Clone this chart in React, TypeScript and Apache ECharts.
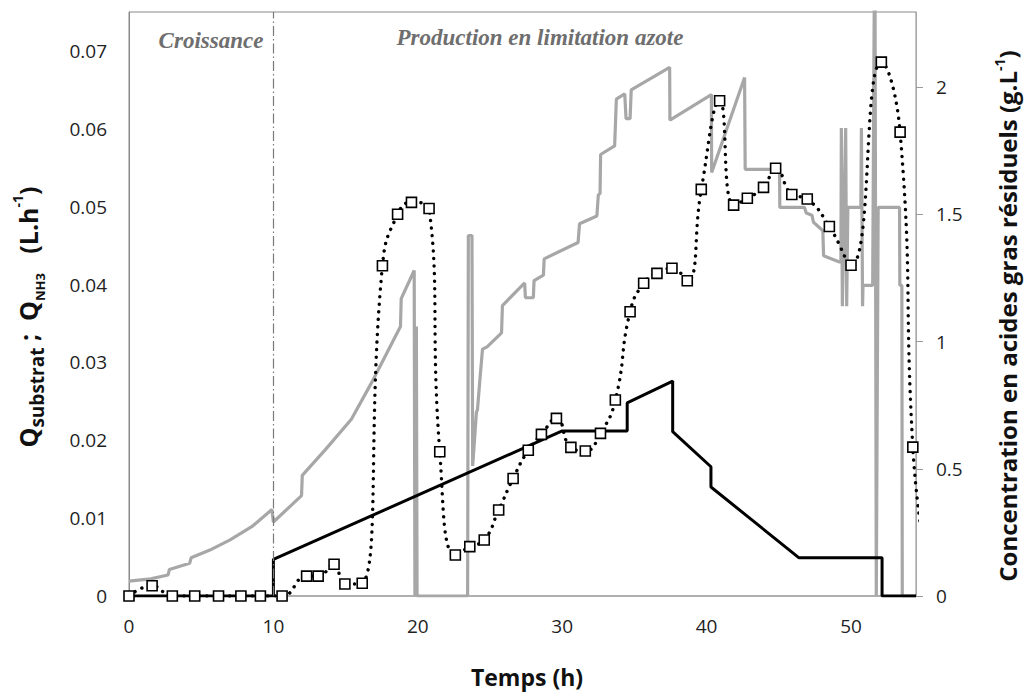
import React, { useEffect, useRef } from "react";
import * as echarts from "echarts";

// Time axis ticks (h)
const timeTicks = [0, 10, 20, 30, 40, 50];
// Left axis ticks: Q substrat ; Q NH3 (L/h)
const flowTicks = [0, 0.01, 0.02, 0.03, 0.04, 0.05, 0.06, 0.07];
// Right axis ticks: residual fatty acids (g/L)
const acidTicks = [0, 0.5, 1, 1.5, 2];

// Q substrat (grey line), [time h, L/h]
const substrateFlow: [number, number][] = [
  [0, 0.0019], [1.5, 0.0022], [2.7, 0.0027], [2.8, 0.0034], [4.2, 0.0042], [4.3, 0.0049],
  [5.6, 0.0059], [7.0, 0.0072], [8.5, 0.0089], [9.9, 0.0111], [10.0, 0.0095],
  [11.95, 0.0129], [12.0, 0.0155], [13.6, 0.0188], [15.4, 0.0227], [16.8, 0.0274],
  [18.8, 0.0346], [18.85, 0.0382], [19.75, 0.0418], [19.8, 0], [19.9, 0.0346], [19.95, 0],
  [23.45, 0], [23.5, 0.0463], [23.75, 0.0463], [23.8, 0.0167], [24.06, 0.0236],
  [24.13, 0.0239], [24.3, 0.0278], [24.48, 0.0317], [24.8, 0.032], [25.8, 0.0338],
  [25.86, 0.0373], [27.4, 0.0402], [27.45, 0.0383], [28.0, 0.0383], [28.05, 0.0405],
  [28.7, 0.0412], [28.75, 0.0433], [31.1, 0.0454], [31.2, 0.0478], [32.4, 0.0488],
  [32.5, 0.0515], [32.62, 0.0517], [32.66, 0.0567], [33.63, 0.0578], [33.75, 0.0638],
  [34.33, 0.0645], [34.42, 0.0613], [34.7, 0.0613], [34.78, 0.065], [37.44, 0.0679],
  [37.46, 0.0611], [40.33, 0.0644], [40.35, 0.0544], [42.63, 0.0666], [42.67, 0.0548],
  [45.05, 0.0548], [45.07, 0.0499], [46.78, 0.0499], [46.9, 0.0492], [47.3, 0.0489],
  [47.4, 0.048], [48.05, 0.0469], [48.1, 0.0437], [49.2, 0.0429], [49.3, 0.0429],
  [49.33, 0.0601], [49.4, 0.0372], [49.63, 0.0601], [49.7, 0.0372], [49.78, 0.0499],
  [50.68, 0.0499], [50.72, 0.0601], [50.8, 0.0372], [50.83, 0.0399], [51.5, 0.0399],
  [51.65, 0.09], [51.75, 0], [51.88, 0.0499], [53.36, 0.0499], [53.38, 0.0399],
  [53.52, 0.0399], [53.55, 0], [54.5, 0]
];

// Q NH3 (black line), [time h, L/h]
const ammoniaFlow: [number, number][] = [
  [0, 0], [10, 0], [10, 0.0047], [30, 0.0212], [34.5, 0.0212], [34.5, 0.0248],
  [37.65, 0.0276], [37.65, 0.0211], [40.3, 0.0166], [40.3, 0.014], [46.4, 0.0049],
  [52.15, 0.0049], [52.15, 0], [54.5, 0]
];

// Residual fatty acids (squares + dotted line), [time h, g/L]
const fattyAcids: [number, number][] = [
  [0, 0], [1.6, 0.04], [3.0, 0], [4.55, 0], [6.2, 0], [7.75, 0], [9.1, 0], [10.6, 0],
  [12.3, 0.078], [13.1, 0.078], [14.2, 0.125], [14.95, 0.047], [16.15, 0.05],
  [17.55, 1.298], [18.6, 1.5], [19.56, 1.547], [20.78, 1.523], [21.52, 0.567],
  [22.6, 0.161], [23.6, 0.194], [24.6, 0.22], [25.6, 0.338], [26.6, 0.462],
  [27.65, 0.573], [28.56, 0.635], [29.6, 0.698], [30.6, 0.584], [31.6, 0.57],
  [32.65, 0.639], [33.68, 0.77], [34.7, 1.117], [35.64, 1.229], [36.56, 1.268],
  [37.6, 1.288], [38.66, 1.239], [39.63, 1.598], [40.9, 1.946], [41.87, 1.536],
  [42.82, 1.563], [43.94, 1.606], [44.78, 1.681], [45.9, 1.578], [46.97, 1.56],
  [48.5, 1.452], [50.0, 1.3], [52.1, 2.098], [53.4, 1.823], [54.28, 0.585], [55.0, 0.2]
];

const FONT = '"Open Sans", "Noto Sans", sans-serif';

export default function App() {
  const ref = useRef<HTMLDivElement>(null);

  useEffect(() => {
    if (!ref.current) return;
    const chart = echarts.init(ref.current, null, { renderer: "svg" });
    const labelStyle = { fontFamily: FONT, fontSize: 19, color: "#1f1f1f" };
    chart.setOption({
      animation: false,
      backgroundColor: "#ffffff",
      grid: {
        left: 129, right: 108, top: 12, bottom: 98,
        show: true, borderColor: "#8a8a8a", borderWidth: 1, backgroundColor: "transparent"
      },
      xAxis: {
        type: "value", min: 0, max: 54.5,
        axisLine: { show: true, lineStyle: { color: "#a8a8a8", width: 1.5 } },
        axisTick: { show: false },
        splitLine: { show: false },
        axisLabel: { ...labelStyle, margin: 20, customValues: timeTicks, formatter: (v: number) => String(v) }
      },
      yAxis: [
        {
          type: "value", min: 0, max: 0.075, position: "left",
          axisLine: { show: true, lineStyle: { color: "#8a8a8a", width: 1 } },
          axisTick: { show: false },
          splitLine: { show: false },
          axisLabel: { ...labelStyle, margin: 22, customValues: flowTicks, formatter: (v: number) => String(v) }
        },
        {
          type: "value", min: 0, max: 2.295, position: "right",
          axisLine: { show: true, lineStyle: { color: "#a8a8a8", width: 1 } },
          axisTick: { show: true, length: 7, inside: false, customValues: acidTicks, lineStyle: { color: "#9a9a9a" } },
          splitLine: { show: false },
          axisLabel: { ...labelStyle, margin: 20, customValues: acidTicks, formatter: (v: number) => String(v) }
        }
      ],
      series: [
        {
          name: "Q substrat", type: "line", yAxisIndex: 0, data: substrateFlow,
          symbol: "none", showSymbol: false, clip: true, z: 2,
          lineStyle: { color: "#a7a7a7", width: 3.2 },
          markLine: {
            silent: true, symbol: ["none", "none"], label: { show: false },
            lineStyle: { color: "#7a7a7a", width: 1.2, type: [10, 3, 1.5, 3] },
            data: [{ xAxis: 10 }]
          }
        },
        {
          name: "Q NH3", type: "line", yAxisIndex: 0, data: ammoniaFlow,
          symbol: "none", showSymbol: false, z: 3,
          lineStyle: { color: "#000000", width: 3 }
        },
        {
          name: "Acides gras résiduels", type: "line", yAxisIndex: 1, data: fattyAcids,
          smooth: 0.5, clip: true, z: 5,
          symbol: "rect", symbolSize: 10,
          itemStyle: { color: "#ffffff", borderColor: "#000000", borderWidth: 1.6 },
          lineStyle: { color: "#000000", width: 3.4, type: [0.1, 7.5], cap: "round" }
        }
      ],
      graphic: [
        {
          type: "text", x: 211, y: 40,
          style: {
            text: "Croissance", font: 'italic bold 23px "Liberation Serif", serif',
            fill: "#6e6e6e", align: "center", verticalAlign: "middle"
          }
        },
        {
          type: "text", x: 540, y: 37,
          style: {
            text: "Production en limitation azote", font: 'italic bold 23px "Liberation Serif", serif',
            fill: "#6e6e6e", align: "center", verticalAlign: "middle"
          }
        },
        {
          type: "text", x: 527, y: 677,
          style: {
            text: "Temps (h)", font: `bold 23px ${FONT}`,
            fill: "#111111", align: "center", verticalAlign: "middle"
          }
        },
        {
          type: "text", x: 28, y: 317, rotation: Math.PI / 2,
          style: {
            text: "{m|Q}{s|substrat}{m| ;  Q}{n|NH3}{m|   (L.h}{p|-1}{m|)}",
            align: "center", verticalAlign: "middle",
            rich: {
              m: { font: `bold 25px ${FONT}`, fill: "#111111", lineHeight: 36 },
              s: { font: `bold 19px ${FONT}`, fill: "#111111", verticalAlign: "bottom" },
              n: { font: `bold 13px ${FONT}`, fill: "#111111", verticalAlign: "bottom" },
              p: { font: `bold 14px ${FONT}`, fill: "#111111", verticalAlign: "top" }
            }
          }
        },
        {
          type: "text", x: 1007, y: 316, rotation: Math.PI / 2,
          style: {
            text: "{m|Concentration en acides gras résiduels (g.L}{p|-1}{m|)}",
            align: "center", verticalAlign: "middle",
            rich: {
              m: { font: `bold 24px ${FONT}`, fill: "#111111", lineHeight: 30 },
              p: { font: `bold 14px ${FONT}`, fill: "#111111", verticalAlign: "top" }
            }
          }
        }
      ]
    });
    return () => chart.dispose();
  }, []);

  return (
    <div
      ref={ref}
      style={{ position: "absolute", left: 0, top: 0, width: 1024, height: 694, background: "#fff" }}
    />
  );
}
